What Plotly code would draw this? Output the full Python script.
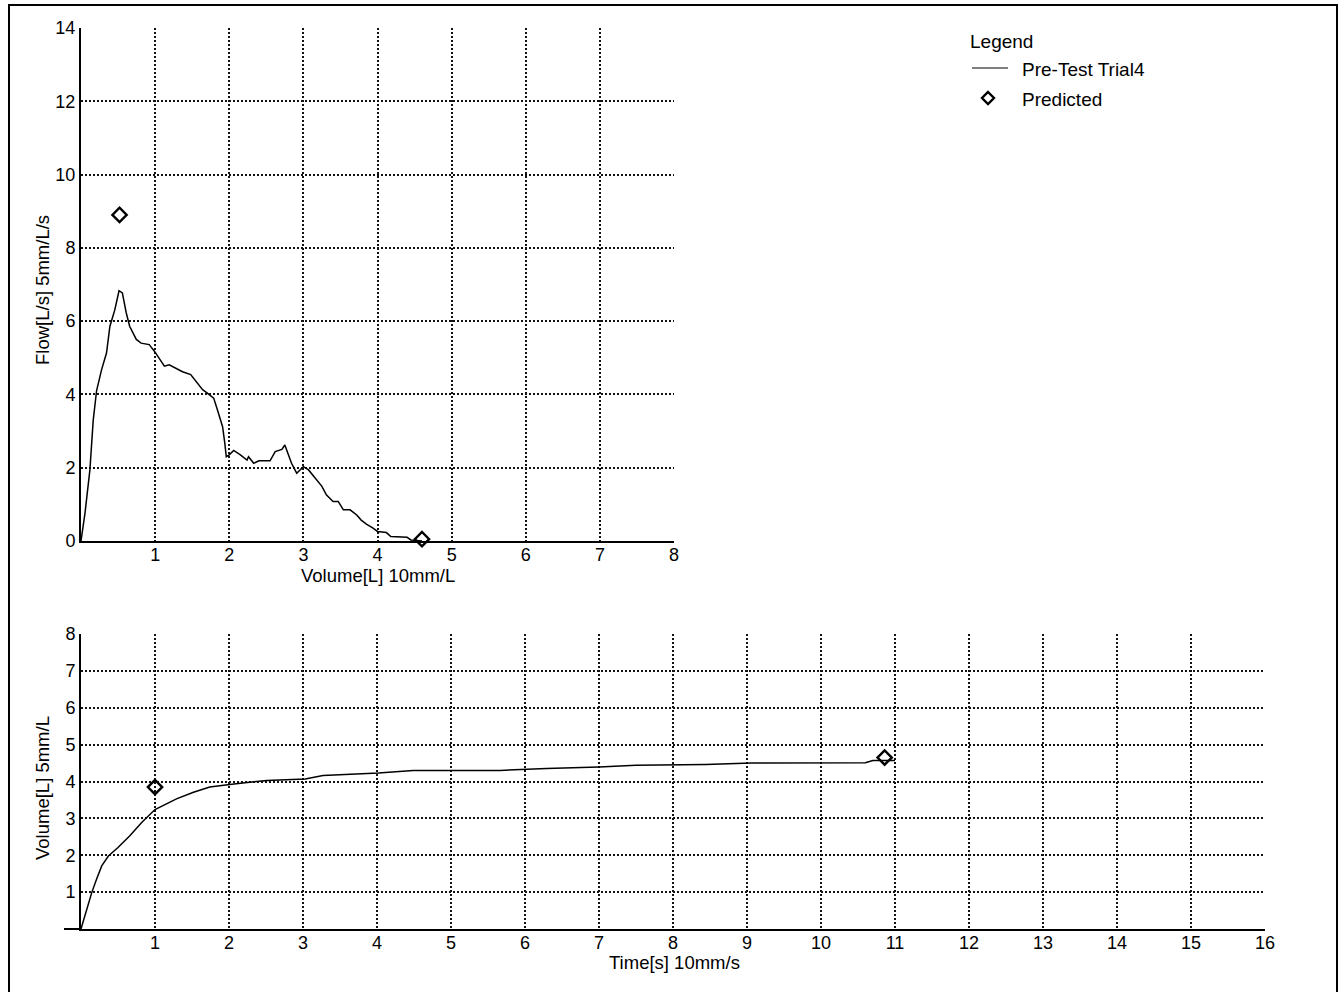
import plotly.graph_objects as go

W, H = 1343, 992

# ---- Flow-volume data (top) ----
fv_volume = [0, 0.054, 0.12, 0.165, 0.21, 0.277, 0.344, 0.39, 0.455, 0.513, 0.558, 0.61, 0.656,
             0.746, 0.81, 0.92, 0.99, 1.06, 1.125, 1.19, 1.28, 1.37, 1.48, 1.55, 1.64, 1.7, 1.79,
             1.84, 1.91, 1.94, 1.96, 2.0, 2.06, 2.15, 2.24, 2.26, 2.33, 2.4, 2.55, 2.62, 2.71,
             2.75, 2.8, 2.84, 2.91, 2.95, 3.0, 3.07, 3.156, 3.25, 3.31, 3.4, 3.47, 3.54, 3.63,
             3.72, 3.78, 3.85, 3.94, 4.0, 4.12, 4.18, 4.4, 4.45, 4.6]
fv_flow = [0, 0.76, 1.94, 3.3, 4.1, 4.67, 5.13, 5.86, 6.3, 6.83, 6.77, 6.23, 5.86,
           5.5, 5.4, 5.36, 5.18, 4.95, 4.77, 4.81, 4.72, 4.62, 4.54, 4.36, 4.13, 4.04, 3.9,
           3.58, 3.12, 2.67, 2.3, 2.35, 2.47, 2.35, 2.21, 2.3, 2.12, 2.19, 2.19, 2.44, 2.5,
           2.62, 2.35, 2.12, 1.85, 1.94, 2.03, 1.94, 1.71, 1.49, 1.26, 1.08, 1.08, 0.85, 0.85,
           0.71, 0.57, 0.46, 0.35, 0.26, 0.23, 0.12, 0.1, 0.03, 0.0]
fv_pred_volume = [0.52, 4.6]
fv_pred_flow = [8.9, 0.05]

# ---- Volume-time data (bottom) ----
vt_time = [0, 0.077, 0.144, 0.21, 0.28, 0.37, 0.5, 0.66, 0.82, 1.0, 1.16, 1.29, 1.52, 1.74,
           2.01, 2.51, 3.03, 3.27, 4.02, 4.49, 5.0, 5.66, 6.29, 7.0, 7.5, 8.0, 8.44, 9.06,
           10.0, 10.6, 10.7, 11.0]
vt_volume = [0, 0.53, 0.98, 1.35, 1.71, 1.98, 2.21, 2.53, 2.89, 3.24, 3.39, 3.53, 3.71, 3.85,
             3.92, 4.03, 4.07, 4.16, 4.23, 4.3, 4.3, 4.3, 4.35, 4.39, 4.44, 4.44, 4.46, 4.5,
             4.51, 4.51, 4.57, 4.57]
vt_pred_time = [1.0, 10.86]
vt_pred_volume = [3.85, 4.65]

top_xticks = [1, 2, 3, 4, 5, 6, 7, 8]
top_yticks = [0, 2, 4, 6, 8, 10, 12, 14]
bot_xticks = list(range(1, 17))
bot_yticks = list(range(1, 9))

FONT = "Liberation Sans, Arial, sans-serif"

def px(x):
    return x / W

def py(y):
    return 1 - y / H

fig = go.Figure()

marker_style = dict(symbol="diamond-open", size=11, color="black",
                    line=dict(width=2.4, color="black"))

fig.add_trace(go.Scatter(x=fv_volume, y=fv_flow, mode="lines",
                         line=dict(color="black", width=1.5), xaxis="x", yaxis="y",
                         showlegend=False))
fig.add_trace(go.Scatter(x=fv_pred_volume, y=fv_pred_flow, mode="markers",
                         marker=marker_style, xaxis="x", yaxis="y",
                         showlegend=False, cliponaxis=False))
fig.add_trace(go.Scatter(x=vt_time, y=vt_volume, mode="lines",
                         line=dict(color="black", width=1.5), xaxis="x2", yaxis="y2",
                         showlegend=False))
fig.add_trace(go.Scatter(x=vt_pred_time, y=vt_pred_volume, mode="markers",
                         marker=marker_style, xaxis="x2", yaxis="y2",
                         showlegend=False, cliponaxis=False))

grid = dict(showgrid=True, gridcolor="#111", gridwidth=1.5, griddash="2px,2px", zeroline=False,
            showline=True, linecolor="black", linewidth=2, ticks="", automargin=False,
            tickfont=dict(family=FONT, size=18, color="black"), fixedrange=True)

fig.update_layout(
    width=W, height=H,
    margin=dict(l=0, r=0, t=0, b=0, pad=0, autoexpand=False),
    paper_bgcolor="white", plot_bgcolor="white",
    showlegend=False,
    font=dict(family=FONT, size=18, color="black"),
    xaxis=dict(domain=[px(81), px(674)], range=[0, 8], tickvals=top_xticks,
               anchor="y", ticklabelstandoff=-4, **grid),
    yaxis=dict(domain=[py(541), py(28)], range=[0, 14], tickvals=top_yticks,
               anchor="x", **grid),
    xaxis2=dict(domain=[px(81), px(1265)], range=[0, 16], tickvals=bot_xticks,
                anchor="y2", ticklabelstandoff=-4, **grid),
    yaxis2=dict(domain=[py(929), py(634)], range=[0, 8], tickvals=bot_yticks,
                anchor="x2", **grid),
)

annotations = [
    dict(text="Volume[L] 10mm/L", x=px(378), y=py(575)),
    dict(text="Flow[L/s] 5mm/L/s", x=px(42), y=py(290), textangle=-90),
    dict(text="Time[s] 10mm/s", x=px(674), y=py(962)),
    dict(text="Volume[L] 5mm/L", x=px(42), y=py(788), textangle=-90),
]
for a in annotations:
    a.update(xref="paper", yref="paper", showarrow=False,
             font=dict(family=FONT, size=18.5, color="black"),
             xanchor="center", yanchor="middle")

# legend (drawn manually)
legend_texts = [
    dict(text="Legend", x=px(968), y=py(41)),
    dict(text="Pre-Test Trial4", x=px(1020), y=py(69)),
    dict(text="Predicted", x=px(1020), y=py(99)),
]
for a in legend_texts:
    a.update(xref="paper", yref="paper", showarrow=False, xanchor="left", yanchor="middle",
             font=dict(family=FONT, size=19, color="black"))
fig.update_layout(annotations=annotations + legend_texts)

shapes = [
    # outer frame
    dict(type="rect", xref="paper", yref="paper", x0=px(9), x1=px(1337), y0=-0.02, y1=py(5),
         line=dict(color="black", width=2)),
    # legend line sample
    dict(type="line", xref="paper", yref="paper", x0=px(972), x1=px(1008), y0=py(68), y1=py(68),
         line=dict(color="black", width=1.2)),
    # legend diamond
    dict(type="path", xref="paper", yref="paper",
         path=f"M {px(988)},{py(92)} L {px(994)},{py(98)} L {px(988)},{py(104)} L {px(982)},{py(98)} Z",
         line=dict(color="black", width=2.4)),
    # bottom x-axis stub to the left of y axis
    dict(type="line", xref="paper", yref="paper", x0=px(64), x1=px(81), y0=py(929), y1=py(929),
         line=dict(color="black", width=2)),
]
fig.update_layout(shapes=shapes)

fig.write_html(
    "out.html",
    config={"displayModeBar": False},
    post_script="document.body.style.margin='0';document.body.style.padding='0';"
                "document.documentElement.style.overflow='hidden';"
)
